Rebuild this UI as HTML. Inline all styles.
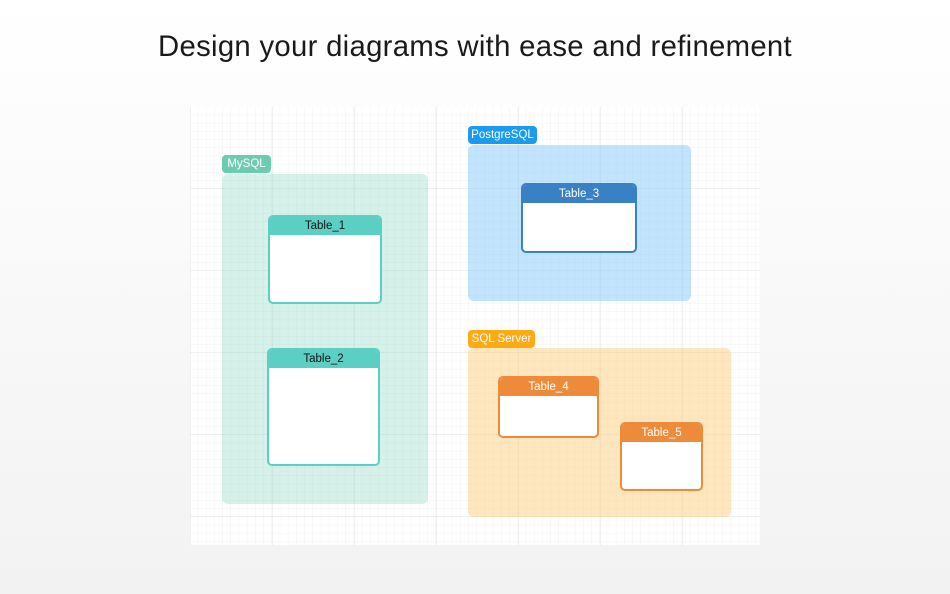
<!DOCTYPE html>
<html><head><style>
body{margin:0;width:950px;height:594px;overflow:hidden;background:linear-gradient(#fff,#f2f2f2);font-family:"Liberation Sans","DejaVu Sans",sans-serif;position:relative}
h1{position:absolute;top:30px;left:0;width:950px;text-align:center;margin:0;font-weight:300;font-size:29.3px;color:#1a1a1a;letter-spacing:0.3px}
.canvas{position:absolute;left:190px;top:107px;width:570px;height:438px;background:#fff}
.lbl{position:absolute;border-radius:4px;color:#fff;font-size:11.5px;line-height:18px;text-align:center}
.grp{position:absolute;border-radius:6px}
.tbl{position:absolute;background:#fff;border:2px solid;border-radius:5px;box-sizing:border-box;overflow:hidden}
.tbl div{height:18px;line-height:19px;text-align:center;font-size:11.5px}
</style></head><body>
<h1>Design your diagrams with ease and refinement</h1>
<div class="canvas">
<svg width="570" height="438" style="position:absolute;left:0;top:0">
<defs>
<pattern id="m" width="8.2" height="8.2" patternUnits="userSpaceOnUse"><path d="M8.2 0V8.2M0 8.2H8.2" stroke="#f2f2f2" stroke-width="1" fill="none"/></pattern>
<pattern id="M" width="82" height="82" patternUnits="userSpaceOnUse" x="1" y="0"><path d="M82 0V82M0 82H82" stroke="#e2e2e2" stroke-width="1" fill="none"/></pattern>
</defs>
<rect width="570" height="438" fill="url(#m)"/>
<rect width="570" height="438" fill="url(#M)"/>
</svg>
</div>
<div class="grp" style="left:222px;top:174px;width:206px;height:330px;background:rgba(109,203,176,0.28)"></div>
<div class="lbl" style="left:222px;top:155px;width:49px;background:#6dcbb0">MySQL</div>
<div class="tbl" style="left:268px;top:215px;width:114px;height:89px;border-color:#5ccfc5"><div style="background:#5ccfc5;color:#111">Table_1</div></div>
<div class="tbl" style="left:267px;top:348px;width:113px;height:118px;border-color:#5ccfc5"><div style="background:#5ccfc5;color:#111">Table_2</div></div>

<div class="grp" style="left:468px;top:145px;width:223px;height:156px;background:rgba(120,195,250,0.45)"></div>
<div class="lbl" style="left:468px;top:126px;width:69px;background:#1a9bf0">PostgreSQL</div>
<div class="tbl" style="left:521px;top:183px;width:116px;height:70px;border-color:#3a80c4"><div style="background:#3a80c4;color:#fff">Table_3</div></div>

<div class="grp" style="left:468px;top:348px;width:263px;height:169px;background:rgba(253,200,110,0.45)"></div>
<div class="lbl" style="left:468px;top:330px;width:67px;background:#fdab14">SQL Server</div>
<div class="tbl" style="left:498px;top:376px;width:101px;height:62px;border-color:#ee8b3a"><div style="background:#ee8b3a;color:#fff">Table_4</div></div>
<div class="tbl" style="left:620px;top:422px;width:83px;height:69px;border-color:#ee8b3a"><div style="background:#ee8b3a;color:#fff">Table_5</div></div>
</body></html>
